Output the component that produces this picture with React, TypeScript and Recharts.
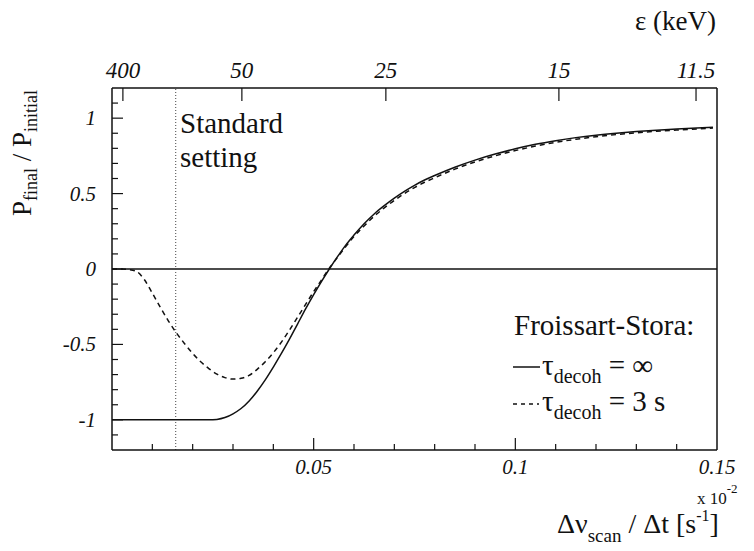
import React from "react";
import { LineChart, Line, XAxis, YAxis, ReferenceLine } from "recharts";

const FONT = "Liberation Serif, Times New Roman, Times, DejaVu Serif, Noto Serif, serif";
const INK = "#111";

// sweep rate, in units of 10^-2 s^-1
const sweepRates = [
  0, 0.002, 0.004, 0.006, 0.008, 0.01, 0.012, 0.014, 0.016, 0.018, 0.02, 0.022,
  0.024, 0.026, 0.028, 0.03, 0.032, 0.034, 0.036, 0.038, 0.04, 0.042, 0.044,
  0.046, 0.048, 0.05, 0.052, 0.054, 0.056, 0.058, 0.06, 0.0625, 0.065, 0.0675,
  0.07, 0.0725, 0.075, 0.0775, 0.08, 0.085, 0.09, 0.095, 0.1, 0.105, 0.11,
  0.115, 0.12, 0.125, 0.13, 0.135, 0.14, 0.145, 0.149,
];

// Froissart-Stora, tau_decoh = infinity
const fsNoDecoh = [
  -1, -1, -1, -1, -1, -1, -1, -1, -1, -1, -1, -1, -1, -0.997, -0.985, -0.96,
  -0.925, -0.875, -0.81, -0.735, -0.65, -0.56, -0.465, -0.365, -0.265, -0.17,
  -0.08, 0.005, 0.085, 0.16, 0.225, 0.3, 0.365, 0.42, 0.47, 0.515, 0.555, 0.59,
  0.62, 0.675, 0.722, 0.762, 0.797, 0.827, 0.851, 0.871, 0.887, 0.9, 0.911,
  0.92, 0.928, 0.935, 0.94,
];

// Froissart-Stora, tau_decoh = 3 s
const fsDecoh3s = [
  0, 0, -0.003, -0.015, -0.07, -0.16, -0.255, -0.345, -0.425, -0.495, -0.56,
  -0.615, -0.66, -0.697, -0.72, -0.73, -0.725, -0.705, -0.665, -0.615, -0.555,
  -0.485, -0.405, -0.32, -0.235, -0.15, -0.07, 0.01, 0.08, 0.15, 0.215, 0.285,
  0.35, 0.405, 0.455, 0.5, 0.54, 0.575, 0.605, 0.662, 0.71, 0.75, 0.785, 0.815,
  0.84, 0.86, 0.877, 0.891, 0.903, 0.913, 0.921, 0.928, 0.934,
];

const xTicks = [
  0.01, 0.02, 0.03, 0.04, 0.05, 0.06, 0.07, 0.08, 0.09, 0.1, 0.11, 0.12, 0.13,
  0.14, 0.15,
];
const xMajor = [0.05, 0.1, 0.15];
const xTickLabels = ["0.05", "0.1", "0.15"];

const yTicks = [
  -1.1, -1, -0.9, -0.8, -0.7, -0.6, -0.5, -0.4, -0.3, -0.2, -0.1, 0, 0.1, 0.2,
  0.3, 0.4, 0.5, 0.6, 0.7, 0.8, 0.9, 1, 1.1,
];
const yMajor = [-1, -0.5, 0, 0.5, 1];
const yTickLabels = ["-1", "-0.5", "0", "0.5", "1"];

// energy scale on the top axis, placed at the matching sweep rate
const energyTickPos = [0.0027, 0.0322, 0.0679, 0.1108, 0.1448];
const energyTickLabels = ["400", "50", "25", "15", "11.5"];

const standardSetting = 0.0158;

const data = sweepRates.map((x, i) => ({
  x,
  solid: fsNoDecoh[i],
  dashed: fsDecoh3s[i],
}));

const findMajor = (v: number, list: number[]) =>
  list.findIndex((m) => Math.abs(m - v) < 1e-6);

const txt = (size: number, italic = false) => ({
  fontFamily: FONT,
  fontSize: size,
  fontStyle: italic ? "italic" : "normal",
  fill: INK,
});

function BottomTick({ x, y, payload }: any) {
  const i = findMajor(payload.value, xMajor);
  const edge = Math.abs(payload.value - 0.15) < 1e-6;
  return (
    <g>
      {!edge && (
        <line x1={x} y1={y} x2={x} y2={y - (i >= 0 ? 12 : 6)} stroke={INK} strokeWidth={1.2} />
      )}
      {i >= 0 && (
        <text x={x} y={y + 24} textAnchor="middle" style={txt(21, true)}>
          {xTickLabels[i]}
        </text>
      )}
    </g>
  );
}

function LeftTick({ x, y, payload }: any) {
  const i = findMajor(payload.value, yMajor);
  return (
    <g>
      <line x1={x} y1={y} x2={x + (i >= 0 ? 11 : 6)} y2={y} stroke={INK} strokeWidth={1.2} />
      {i >= 0 && (
        <text x={x - 16} y={y + 7} textAnchor="end" style={txt(21, true)}>
          {yTickLabels[i]}
        </text>
      )}
    </g>
  );
}

function TopTick({ x, y, index }: any) {
  return (
    <g>
      <line x1={x} y1={y} x2={x} y2={y + 13} stroke={INK} strokeWidth={1.2} />
      <text x={x} y={y - 10} textAnchor="middle" style={txt(23, true)}>
        {energyTickLabels[index]}
      </text>
    </g>
  );
}

export default function App() {
  return (
    <div style={{ position: "absolute", left: 0, top: 0, width: 754, height: 551, background: "#fff" }}>
      <LineChart
        width={754}
        height={551}
        data={data}
        margin={{ top: 58, right: 37, bottom: 71, left: 72 }}
      >
        <XAxis
          dataKey="x"
          type="number"
          domain={[0, 0.15]}
          allowDataOverflow
          ticks={xTicks}
          interval={0}
          height={30}
          tickSize={0}
          tickMargin={0}
          tickLine={false}
          tick={BottomTick}
          axisLine={{ stroke: INK, strokeWidth: 1.5 }}
        />
        <XAxis
          xAxisId="top"
          orientation="top"
          dataKey="x"
          type="number"
          domain={[0, 0.15]}
          allowDataOverflow
          ticks={energyTickPos}
          interval={0}
          height={30}
          tickSize={0}
          tickMargin={0}
          tickLine={false}
          tick={TopTick}
          axisLine={{ stroke: INK, strokeWidth: 1.5 }}
        />
        <YAxis
          type="number"
          domain={[-1.2, 1.2]}
          allowDataOverflow
          ticks={yTicks}
          interval={0}
          width={40}
          tickSize={0}
          tickMargin={0}
          tickLine={false}
          tick={LeftTick}
          axisLine={{ stroke: INK, strokeWidth: 1.5 }}
        />
        <ReferenceLine x={0.15} stroke={INK} strokeWidth={1.5} />
        <ReferenceLine y={0} stroke={INK} strokeWidth={1.5} />
        <ReferenceLine x={standardSetting} stroke="#444" strokeWidth={1} strokeDasharray="1 2" />
        <Line
          xAxisId="top"
          dataKey="solid"
          stroke="none"
          dot={false}
          activeDot={false}
          legendType="none"
          isAnimationActive={false}
        />
        <Line
          type="monotone"
          dataKey="solid"
          stroke={INK}
          strokeWidth={1.5}
          dot={false}
          isAnimationActive={false}
        />
        <Line
          type="monotone"
          dataKey="dashed"
          stroke={INK}
          strokeWidth={1.5}
          strokeDasharray="5 4"
          dot={false}
          isAnimationActive={false}
        />
      </LineChart>
      <svg
        width={754}
        height={551}
        style={{ position: "absolute", left: 0, top: 0, pointerEvents: "none" }}
      >
        <text x={716} y={30} textAnchor="end" style={txt(27)}>ε (keV)</text>
        <text transform="translate(31,153) rotate(-90)" textAnchor="middle" style={txt(27)}>
          P<tspan fontSize={18} dy={6}>final</tspan>
          <tspan dy={-6}> / P</tspan>
          <tspan fontSize={18} dy={6}>initial</tspan>
        </text>
        <text x={180} y={133} style={txt(29)}>Standard</text>
        <text x={180} y={167} style={txt(29)}>setting</text>
        <text x={514} y={335} style={txt(29)}>Froissart-Stora:</text>
        <line x1={513} y1={367} x2={540} y2={367} stroke={INK} strokeWidth={1.5} />
        <text x={542} y={375} style={txt(29)}>
          τ<tspan fontSize={20} dy={8}>decoh</tspan>
          <tspan dy={-8}> = ∞</tspan>
        </text>
        <line x1={513} y1={404} x2={539} y2={404} stroke={INK} strokeWidth={1.5} strokeDasharray="4 4" />
        <text x={542} y={411} style={txt(29)}>
          τ<tspan fontSize={20} dy={8}>decoh</tspan>
          <tspan dy={-8}> = 3 s</tspan>
        </text>
        <text x={697} y={504} style={txt(17)}>
          x 10<tspan fontSize={13} dy={-11}>-2</tspan>
        </text>
        <text x={557} y={533} style={txt(28)}>
          Δν<tspan fontSize={19} dy={9}>scan</tspan>
          <tspan dy={-9}> / Δt [s</tspan>
          <tspan fontSize={16} dy={-12}>-1</tspan>
          <tspan dy={12}>]</tspan>
        </text>
      </svg>
    </div>
  );
}
